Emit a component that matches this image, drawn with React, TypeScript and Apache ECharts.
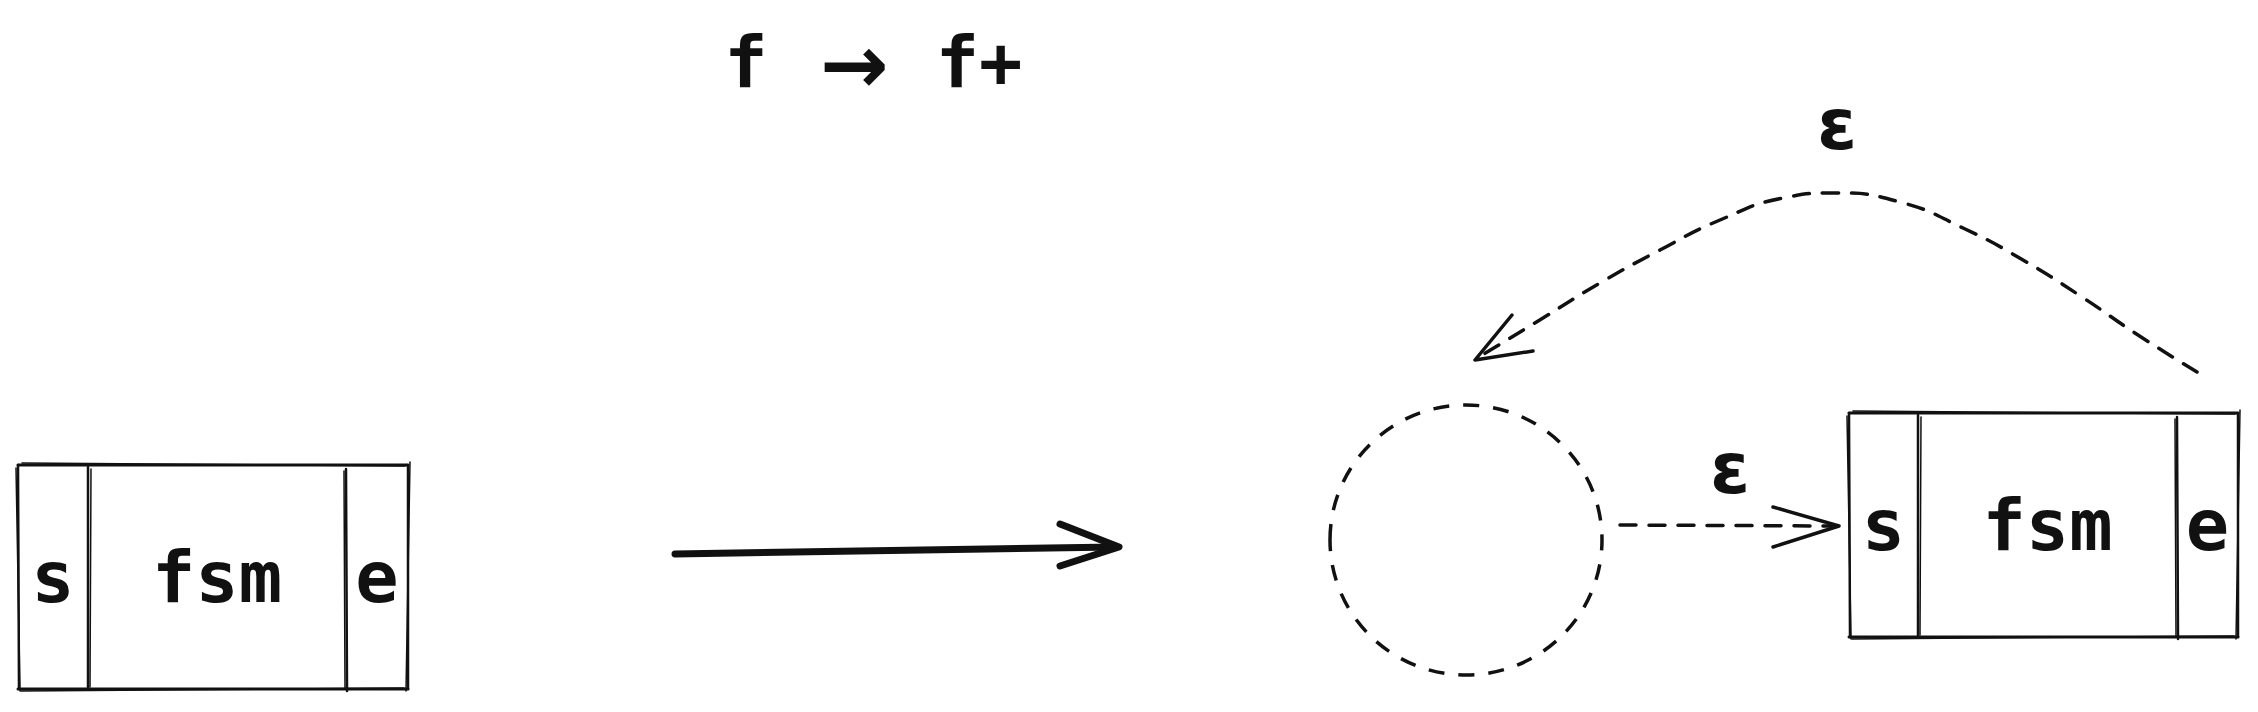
import { useEffect, useRef } from 'react'
import * as echarts from 'echarts'

// canvas extent (the diagram is drawn in pixel-like units)
const width = 2258
const height = 712

// two fsm boxes: outer edges, inner dividers, labels
const boxLefts = [18, 1849]
const boxRights = [408, 2238]
const boxTops = [465, 413]
const boxBottoms = [689, 637]
const boxDividers = [[88, 346], [1918, 2177]]
const boxLabels = ['s', 'fsm', 'e']

// dashed circle (new start state)
const circleCenter = [1466, 540]
const circleRadii = [136, 135]

// thick arrow between the two halves
const bigArrowShaft = [[675, 554], [1115, 547]]
const bigArrowHead = [[1060, 524], [1119, 547], [1060, 566]]

// dashed epsilon arrow circle -> box
const epsArrowShaft = [[1620, 525], [1834, 526]]
const epsArrowHead = [[1773, 507], [1839, 526], [1773, 547]]

// dashed epsilon loop back from box end to circle
const loopXs = [2197, 2138, 2082, 2023, 1963, 1900, 1835, 1783, 1720, 1660, 1600, 1543, 1479]
const loopYs = [372, 335, 297, 260, 228, 202, 193, 198, 220, 250, 283, 318, 357]
const loopHead = [[1512, 315], [1475, 360], [1533, 351]]

// free texts
const titleTexts = ['f', '→', 'f+']
const titleXs = [746, 854, 979]
const titleY = 62
const epsTexts = ['ε', 'ε']
const epsXs = [1837, 1730]
const epsYs = [124, 468]

export default function App() {
  const chartRef = useRef<HTMLDivElement>(null)

  useEffect(() => {
    document.body.style.margin = '0'
    if (!chartRef.current) return
    const chart = echarts.init(chartRef.current, undefined, { renderer: 'svg' })

    const ink = '#111111'
    const mono = '"DejaVu Sans Mono", monospace'

    const lineSeries = (data: number[][], w: number, dashed: boolean, smooth: boolean | number = false): any => ({
      type: 'line',
      data,
      smooth,
      symbol: 'none',
      silent: true,
      lineStyle: { color: ink, width: w, type: dashed ? [16, 13] : 'solid', cap: 'round', join: 'round' },
    })

    const option: echarts.EChartsOption = {
      animation: false,
      backgroundColor: '#ffffff',
      grid: { left: 0, right: 0, top: 0, bottom: 0 },
      xAxis: { type: 'value', min: 0, max: width, show: false },
      yAxis: { type: 'value', min: 0, max: height, inverse: true, show: false },
      series: [
        {
          type: 'custom',
          coordinateSystem: 'cartesian2d',
          silent: true,
          data: boxLefts.map((x, i) => [x, boxTops[i]]),
          renderItem: (params: any, api: any) => {
            const i = params.dataIndex
            const x0 = boxLefts[i], x1 = boxRights[i]
            const y0 = boxTops[i], y1 = boxBottoms[i]
            const [d0, d1] = boxDividers[i]
            const seg = (ax: number, ay: number, bx: number, by: number, w = 2.5) => {
              const a = api.coord([ax, ay])
              const b = api.coord([bx, by])
              return {
                type: 'line',
                shape: { x1: a[0], y1: a[1], x2: b[0], y2: b[1] },
                style: { stroke: ink, lineWidth: w, lineCap: 'round' },
              }
            }
            const children: any[] = [
              // sketchy double strokes for the outer rectangle
              seg(x0, y0, x1, y0, 3), seg(x0 + 4, y0 - 2, x1 - 3, y0 + 1, 1.5),
              seg(x0, y1, x1, y1, 3), seg(x0 + 3, y1 + 2, x1 - 4, y1 - 1, 1.5),
              seg(x0, y0, x0 + 1, y1), seg(x0 - 2, y0 + 3, x0 + 2, y1 + 2, 1.5),
              seg(x1, y0, x1, y1), seg(x1 + 2, y0 - 3, x1 - 2, y1 + 2, 1.5),
              // dividers
              seg(d0, y0 + 2, d0, y1), seg(d0 + 3, y0 + 4, d0 + 2, y1 - 2, 1.5),
              seg(d1, y0 + 4, d1 + 1, y1 + 2), seg(d1 - 2, y0 + 6, d1 - 1, y1, 1.5),
            ]
            const centers = [(x0 + d0) / 2, (d0 + d1) / 2, (d1 + x1) / 2]
            boxLabels.forEach((t, k) => {
              const p = api.coord([centers[k], (y0 + y1) / 2])
              children.push({
                type: 'text',
                x: p[0],
                y: p[1],
                style: {
                  text: t,
                  fill: ink,
                  fontSize: 72,
                  fontWeight: 'bold',
                  fontFamily: mono,
                  align: 'center',
                  verticalAlign: 'middle',
                },
              })
            })
            return { type: 'group', children }
          },
        } as any,
        {
          type: 'custom',
          coordinateSystem: 'cartesian2d',
          silent: true,
          data: [circleCenter],
          renderItem: (_params: any, api: any) => {
            const c = api.coord([api.value(0), api.value(1)])
            const r = api.size(circleRadii)
            return {
              type: 'ellipse',
              shape: { cx: c[0], cy: c[1], rx: r[0], ry: r[1] },
              style: { fill: 'none', stroke: ink, lineWidth: 3.5, lineDash: [16, 14] },
            }
          },
        } as any,
        lineSeries(bigArrowShaft, 7, false),
        lineSeries(bigArrowHead, 7, false),
        lineSeries(epsArrowShaft, 3.5, true),
        lineSeries(epsArrowHead, 3.5, false),
        lineSeries(loopXs.map((x, i) => [x, loopYs[i]]), 3.5, true, 0.5),
        lineSeries(loopHead, 3.5, false),
        {
          type: 'custom',
          coordinateSystem: 'cartesian2d',
          silent: true,
          data: titleXs.map((x) => [x, titleY]),
          renderItem: (params: any, api: any) => {
            const p = api.coord([api.value(0), api.value(1)])
            const t = titleTexts[params.dataIndex]
            const isArrow = t === '→'
            return {
              type: 'text',
              x: p[0],
              y: p[1] + (isArrow ? 2 : 0),
              style: {
                text: t,
                fill: ink,
                fontSize: isArrow ? 82 : 72,
                fontWeight: 'bold',
                fontFamily: isArrow ? '"DejaVu Sans", sans-serif' : mono,
                align: 'center',
                verticalAlign: 'middle',
              },
            }
          },
        } as any,
        {
          type: 'custom',
          coordinateSystem: 'cartesian2d',
          silent: true,
          data: epsXs.map((x, i) => [x, epsYs[i]]),
          renderItem: (params: any, api: any) => {
            const p = api.coord([api.value(0), api.value(1)])
            return {
              type: 'text',
              x: p[0],
              y: p[1],
              style: {
                text: epsTexts[params.dataIndex],
                fill: ink,
                fontSize: 72,
                fontWeight: 'bold',
                fontFamily: '"DejaVu Sans", sans-serif',
                align: 'center',
                verticalAlign: 'middle',
              },
            }
          },
        } as any,
      ],
    }

    chart.setOption(option)

    return () => {
      chart.dispose()
    }
  }, [])

  return <div ref={chartRef} style={{ width: `${width}px`, height: `${height}px` }} />
}
